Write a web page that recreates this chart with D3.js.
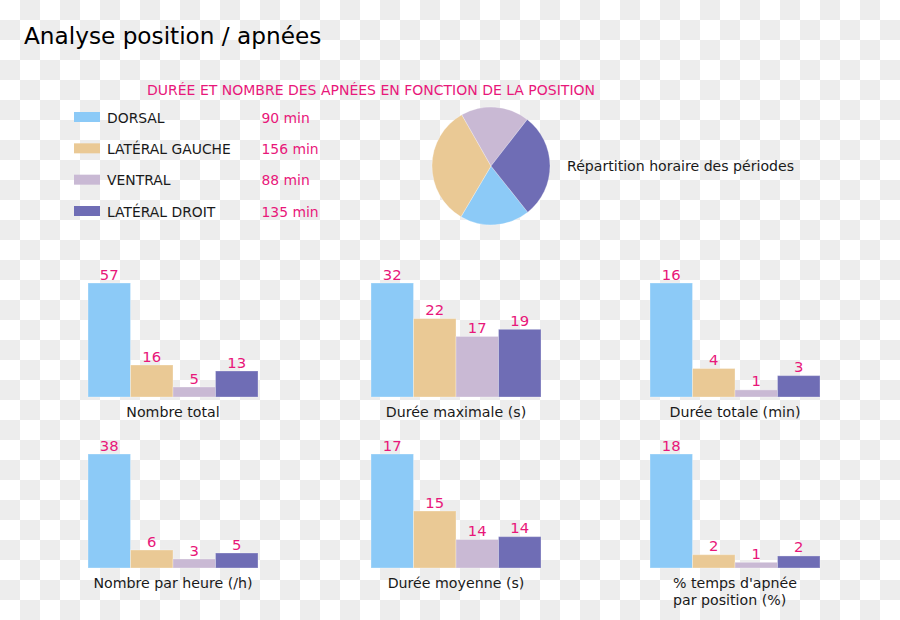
<!DOCTYPE html>
<html>
<head>
<meta charset="utf-8">
<script src="https://cdn.jsdelivr.net/npm/d3@7"></script>
<style>
    body { margin: 0; }
    svg text { font-family: "DejaVu Sans", sans-serif; }
</style>
</head>
<body>
<svg id="chart" width="900" height="620"></svg>
<script>
// positions in legend order
const positions = ['DORSAL', 'LATÉRAL GAUCHE', 'VENTRAL', 'LATÉRAL DROIT'];
const colours = ['#8ccaf7', '#eac995', '#c9b9d4', '#6f6db5'];
const minutes = [90, 156, 88, 135];

// one small chart per measure
const chartTitles = [
    'Nombre total', 'Durée maximale (s)', 'Durée totale (min)',
    'Nombre par heure (/h)', 'Durée moyenne (s)', "% temps d'apnée|par position (%)"
];
const nombreTotal = [57, 16, 5, 13];
const dureeMax = [32, 22, 17, 19];
const dureeTotale = [16, 4, 1, 3];
const nombreHeure = [38, 6, 3, 5];
const dureeMoyenne = [17, 15, 14, 14.1];
const tempsApnee = [18, 2.1, 0.9, 1.9];
const chartValues = [nombreTotal, dureeMax, dureeTotale, nombreHeure, dureeMoyenne, tempsApnee];
const chartFloor = [0, 0, 0, 0, 13, 0];

const pink = '#e8177a';
const ink = '#1a1a1a';

const svg = d3.select('#chart');

drawBackground();
drawHeader();
drawLegend();
drawPie();
drawBars();


function drawBackground () {
    const pat = svg.append('defs').append('pattern')
        .attr('id', 'checker')
        .attr('width', 40)
        .attr('height', 40)
        .attr('patternUnits', 'userSpaceOnUse');
    pat.append('rect').attr('width', 40).attr('height', 40).attr('fill', '#ffffff');
    pat.append('rect').attr('x', 20).attr('width', 20).attr('height', 20).attr('fill', '#ededed');
    pat.append('rect').attr('y', 20).attr('width', 20).attr('height', 20).attr('fill', '#ededed');

    svg.append('rect')
        .attr('width', 900)
        .attr('height', 620)
        .attr('fill', 'url(#checker)');
}

function drawHeader () {
    svg.append('text')
        .attr('x', 24)
        .attr('y', 43.5)
        .attr('font-size', 23.2)
        .attr('fill', '#000')
        .text('Analyse position / apnées');

    svg.append('text')
        .attr('x', 147)
        .attr('y', 95)
        .attr('font-size', 14)
        .attr('fill', pink)
        .text('DURÉE ET NOMBRE DES APNÉES EN FONCTION DE LA POSITION');
}

function drawLegend () {
    const y = d3.scalePoint()
        .domain(positions)
        .range([117, 211]);

    const rows = svg.append('g').selectAll('g')
        .data(positions)
        .join('g')
        .attr('transform', d => 'translate(0,' + y(d) + ')');

    rows.append('rect')
        .attr('x', 74)
        .attr('y', -5)
        .attr('width', 26)
        .attr('height', 10)
        .attr('fill', (d, i) => colours[i]);

    rows.append('text')
        .attr('x', 107)
        .attr('y', 5.5)
        .attr('font-size', 13.9)
        .attr('fill', ink)
        .text(d => d);

    rows.append('text')
        .attr('x', 261.5)
        .attr('y', 5.5)
        .attr('font-size', 13.9)
        .attr('fill', pink)
        .text((d, i) => minutes[i] + ' min');
}

function drawPie () {
    const start = 141.5 * Math.PI / 180;
    const pie = d3.pie()
        .sort(null)
        .startAngle(start)
        .endAngle(start + 2 * Math.PI);
    const arc = d3.arc().innerRadius(0).outerRadius(59);

    svg.append('g')
        .attr('transform', 'translate(491,166)')
        .selectAll('path')
        .data(pie(minutes))
        .join('path')
        .attr('d', arc)
        .attr('fill', (d, i) => colours[i])
        .attr('stroke', '#ffffff')
        .attr('stroke-opacity', 0.35)
        .attr('stroke-width', 0.8);

    svg.append('text')
        .attr('x', 567)
        .attr('y', 171)
        .attr('font-size', 14.1)
        .attr('fill', ink)
        .text('Répartition horaire des périodes');
}

function drawBars () {
    const colX = [88, 371, 650];
    const rowBase = [397, 568];
    const groupWidth = 170;
    const barSpace = 114;

    chartValues.forEach((values, c) => {
        const gx = colX[c % 3];
        const base = rowBase[Math.floor(c / 3)];

        const x = d3.scaleBand()
            .domain(positions)
            .range([0, groupWidth])
            .padding(0);

        const y = d3.scaleLinear()
            .domain([chartFloor[c], d3.max(values)])
            .range([0, barSpace]);

        const g = svg.append('g')
            .attr('transform', 'translate(' + gx + ',' + base + ')');

        g.selectAll('rect')
            .data(values)
            .join('rect')
            .attr('x', (d, i) => x(positions[i]))
            .attr('y', d => -y(d))
            .attr('width', x.bandwidth())
            .attr('height', d => y(d))
            .attr('fill', (d, i) => colours[i])
            .attr('stroke', '#ffffff')
            .attr('stroke-opacity', 0.3)
            .attr('stroke-width', 1);

        g.selectAll('text.value')
            .data(values)
            .join('text')
            .classed('value', true)
            .attr('x', (d, i) => x(positions[i]) + x.bandwidth() / 2)
            .attr('y', d => -y(d) - 3.5)
            .attr('text-anchor', 'middle')
            .attr('font-size', 14.8)
            .attr('fill', pink)
            .text(d => d3.format('.0f')(d));

        const lines = chartTitles[c].split('|');
        const label = g.append('text')
            .attr('font-size', 14.2)
            .attr('fill', ink);

        if (lines.length === 1) {
            label.attr('x', groupWidth / 2)
                .attr('y', 19.5)
                .attr('text-anchor', 'middle')
                .text(lines[0]);
        } else {
            // two lines, left aligned on the centred first one
            const first = label.append('tspan').text(lines[0]);
            const left = groupWidth / 2 - first.node().getComputedTextLength() / 2;
            first.attr('x', left).attr('y', 19.5);
            label.append('tspan')
                .attr('x', left)
                .attr('y', 37)
                .text(lines[1]);
        }
    });
}
</script>
</body>
</html>
